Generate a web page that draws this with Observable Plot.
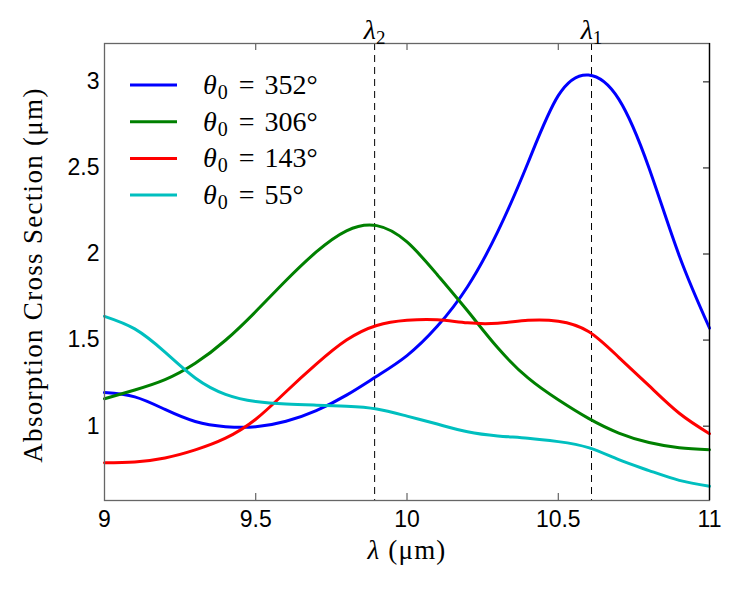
<!DOCTYPE html>
<html><head><meta charset="utf-8">
<script src="https://cdn.jsdelivr.net/npm/d3@7"></script>
<script src="https://cdn.jsdelivr.net/npm/@observablehq/plot@0.6"></script>
<style>body{margin:0;background:#fff} svg{display:block}</style>
</head><body><div id="chart"></div>
<script>
// ---- data ----
const wavelengths = [9.0, 9.1, 9.2, 9.3, 9.4, 9.5, 9.6, 9.7, 9.8, 9.9, 10.0, 10.1, 10.2, 10.3, 10.4, 10.5, 10.6, 10.7, 10.8, 10.9, 11.0];
const theta352 = [1.195, 1.17, 1.097, 1.027, 0.997, 0.996, 1.028, 1.09, 1.18, 1.29, 1.41, 1.58, 1.81, 2.13, 2.53, 2.92, 3.04, 2.90, 2.50, 1.99, 1.57];
const theta306 = [1.159, 1.21, 1.27, 1.365, 1.499, 1.666, 1.846, 2.012, 2.135, 2.165, 2.07, 1.88, 1.67, 1.455, 1.28, 1.153, 1.045, 0.96, 0.905, 0.875, 0.863];
const theta143 = [0.787, 0.792, 0.815, 0.862, 0.93, 1.04, 1.20, 1.36, 1.50, 1.585, 1.615, 1.618, 1.60, 1.598, 1.615, 1.61, 1.55, 1.40, 1.235, 1.075, 0.956];
const theta55  = [1.638, 1.565, 1.43, 1.28, 1.185, 1.143, 1.128, 1.122, 1.116, 1.10, 1.058, 1.012, 0.967, 0.943, 0.93, 0.91, 0.875, 0.805, 0.742, 0.685, 0.651];
const seriesLabels = ["352", "306", "143", "55"];
const seriesColors = ["#0000ff", "#008000", "#ff0000", "#00bfbf"];
const lambdaMarkers = [9.893, 10.61];
const lambdaSubscripts = ["2", "1"];
const xTicks = [9, 9.5, 10, 10.5, 11];
const yTicks = [1, 1.5, 2, 2.5, 3];
const xDomain = [9, 11];
const yDomain = [0.568, 3.223];
const xLabel = "λ (μm)";
const yLabel = "Absorption Cross Section (μm)";

// ---- build ----
const series = [theta352, theta306, theta143, theta55];
const rows = series.flatMap((vals, i) => vals.map((v, j) => ({x: wavelengths[j], y: v, s: seriesLabels[i]})));
const lambdaRows = lambdaMarkers.map((v, i) => ({x: v, label: "λ" + lambdaSubscripts[i]}));

const W = 747, H = 594, mL = 104, mR = 38, mT = 43, mB = 94;
const frameH = H - mT - mB, frameW = W - mL - mR;
const serif = "'Liberation Serif', 'Times New Roman', serif";

const plot = Plot.plot({
  width: W, height: H,
  marginLeft: mL, marginRight: mR, marginTop: mT, marginBottom: mB,
  x: {domain: xDomain},
  y: {domain: yDomain},
  color: {domain: seriesLabels, range: seriesColors},
  style: {background: "white", fontFamily: "'Liberation Sans', Arial, sans-serif", fontSize: "23px", color: "black", overflow: "visible"},
  marks: [
    Plot.ruleX(lambdaMarkers, {stroke: "black", strokeWidth: 1, strokeDasharray: "7,5"}),
    Plot.line(rows, {x: "x", y: "y", z: "s", stroke: "s", strokeWidth: 3, curve: "natural"}),
    Plot.tickX(xTicks.slice(1, -1), {x: d => d, insetTop: frameH - 7, stroke: "#444"}),
    Plot.tickX(xTicks.slice(1, -1), {x: d => d, insetBottom: frameH - 7, stroke: "#444"}),
    Plot.tickY(yTicks, {y: d => d, insetLeft: frameW - 6, stroke: "#000"}),
    Plot.frame({stroke: "#666", strokeWidth: 1.3}),
    Plot.ruleX([xDomain[1]], {stroke: "black", strokeWidth: 1.3}),
    Plot.axisX({ticks: xTicks, tickSize: 0, tickPadding: 10, label: null, tickFormat: d => String(d)}),
    Plot.axisY({ticks: yTicks, tickSize: 0, tickPadding: 5, label: null, tickFormat: d => String(d)}),
    Plot.text(lambdaRows, {x: "x", text: "label", frameAnchor: "top", lineAnchor: "bottom", dy: -5, fontSize: 28, fontFamily: serif}),
    Plot.text([xLabel], {text: d => d, frameAnchor: "bottom", dy: 58, fontSize: 27, fontFamily: serif}),
    Plot.text([yLabel], {text: d => d, frameAnchor: "left", textAnchor: "middle", dx: -71, dy: 3, rotate: -90, fontSize: 27, fontFamily: serif})
  ]
});
document.getElementById("chart").appendChild(plot);

const svg = d3.select(plot);
// italic lambda + subscripts
svg.selectAll("text").each(function() {
  const t = d3.select(this);
  const s = this.textContent;
  if (s === xLabel) {
    t.text(null).style("letter-spacing", "1.2px");
    t.append("tspan").attr("font-style", "italic").text("λ");
    t.append("tspan").text(" (μm)");
  } else if (s === yLabel) {
    t.style("letter-spacing", "1.3px");
  } else if (/^λ\d$/.test(s)) {
    t.text(null);
    t.append("tspan").attr("font-style", "italic").text("λ");
    t.append("tspan").attr("font-size", 19).attr("dy", 5).text(s.slice(1));
  }
});

// legend
const lg = svg.append("g").attr("text-anchor", "start");
seriesLabels.forEach((lab, i) => {
  const y = 85 + i * 36.7;
  lg.append("line").attr("x1", 130).attr("x2", 177).attr("y1", y).attr("y2", y)
    .attr("stroke", seriesColors[i]).attr("stroke-width", 3);
  const t = lg.append("text").attr("x", 203).attr("y", y + 9).attr("text-anchor", "start")
    .attr("font-family", serif).attr("font-size", 28).attr("fill", "black");
  t.append("tspan").attr("font-style", "italic").text("θ");
  t.append("tspan").attr("font-size", 20).attr("dy", 5).attr("dx", 1).text("0");
  t.append("tspan").attr("dy", -5).attr("dx", 11).text("=");
  t.append("tspan").attr("dx", 10).text(lab + "°");
});
</script>
</body></html>
